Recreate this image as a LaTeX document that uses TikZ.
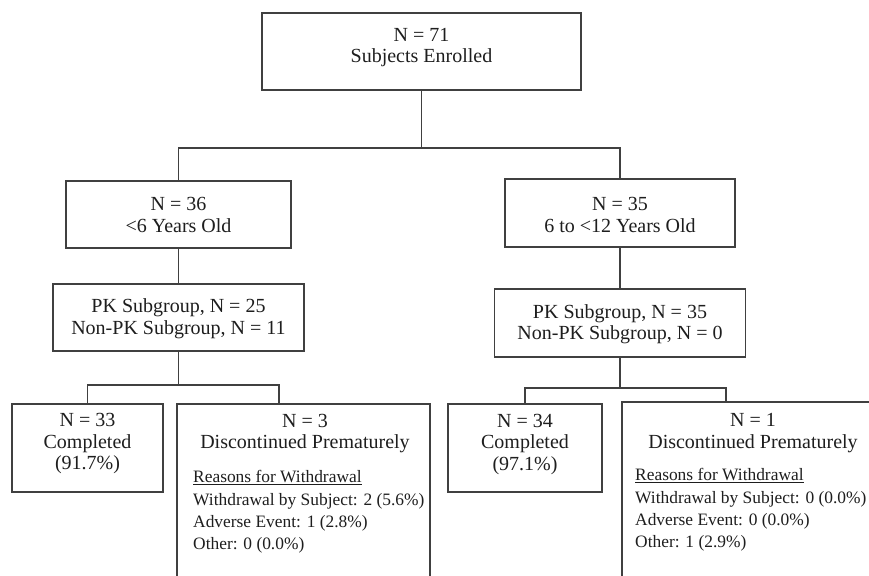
\documentclass[tikz,border=0pt]{standalone}
\usepackage{fontspec}
\setmainfont{Liberation Serif}
\definecolor{linec}{HTML}{404040}
\definecolor{txtc}{HTML}{1E1E1E}
\begin{document}
\begin{tikzpicture}[x=1pt,y=-1pt,
  box/.style={draw=linec, line width=1.4pt, rectangle, inner sep=0pt, outer sep=0pt},
  txt/.style={align=center, inner sep=0pt, text=txtc, font=\fontsize{20}{21.5}\selectfont},
  small/.style={align=left, inner sep=0pt, text=txtc, anchor=west, font=\fontsize{17.4}{22.2}\selectfont},
  conn/.style={draw=linec, line width=1.4pt}]
\useasboundingbox (0,0) rectangle (869,575);
\fill[white] (0,0) rectangle (869,575);
\clip (0,0) rectangle (869,575);

% boxes
\node[box, minimum width=319pt, minimum height=77pt] (top) at (421.5,51.5) {};
\node[box, minimum width=225pt, minimum height=67pt] (lt) at (178.5,214.5) {};
\node[box, minimum width=230pt, minimum height=68pt] (rt) at (620,213) {};
\node[box, minimum width=251pt, minimum height=67pt] (pkl) at (178.5,317.5) {};
\node[box, minimum width=251pt, minimum height=68pt] (pkr) at (620,323) {};
\node[box, minimum width=151pt, minimum height=88pt] (cl) at (87.5,448) {};
\node[box, minimum width=253pt, minimum height=196pt] (dl) at (303.5,502) {};
\node[box, minimum width=154pt, minimum height=88pt] (cr) at (525,448) {};
\node[box, minimum width=278pt, minimum height=198pt] (dr) at (761,501) {};

% texts
\node[txt] (toptxt) at (421.5,47.5) {N = 71\\Subjects Enrolled};
\node[txt] (lttxt) at (178.5,215) {N = 36\\<6 Years Old};
\node[txt] (rttxt) at (620,215) {N = 35\\6 to <12 Years Old};
\node[txt] (pkltxt) at (178.5,318.5) {PK Subgroup, N = 25\\Non-PK Subgroup, N = 11};
\node[txt] (pkrtxt) at (620,324) {PK Subgroup, N = 35\\Non-PK Subgroup, N = 0};
\node[txt] (cltxt) at (87.5,444) {N = 33\\Completed\\(91.7\%)};
\node[txt] (crtxt) at (525,444.5) {N = 34\\Completed\\(97.1\%)};
\node[txt] (dlhead) at (305,433.5) {N = 3\\Discontinued Prematurely};
\node[txt] (drhead) at (753,433) {N = 1\\Discontinued Prematurely};
\node[small] (dllist) at (193,512) {\underline{Reasons for Withdrawal}\\Withdrawal by Subject: 2 (5.6\%)\\Adverse Event: 1 (2.8\%)\\Other: 0 (0.0\%)};
\node[small] (drlist) at (635,510) {\underline{Reasons for Withdrawal}\\Withdrawal by Subject: 0 (0.0\%)\\Adverse Event: 0 (0.0\%)\\Other: 1 (2.9\%)};

% connectors
\draw[conn] (top.south) -- ++(0,58) coordinate (j0);
\draw[conn] (lt.north) |- (j0) -| (rt.north);
\draw[conn] (lt.south) -- (pkl.north);
\draw[conn] (rt.south) -- (pkr.north);
\coordinate (dlin) at (279,404);
\coordinate (drin) at (726,402);
\draw[conn] (pkl.south) -- ++(0,34) coordinate (j1);
\draw[conn] (cl.north) |- (j1) -| (dlin);
\draw[conn] (pkr.south) -- ++(0,31) coordinate (j2);
\draw[conn] (cr.north) |- (j2) -| (drin);
\end{tikzpicture}
\end{document}
